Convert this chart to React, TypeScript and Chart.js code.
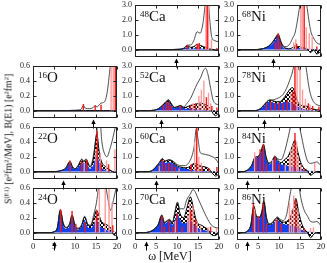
import React, { useEffect, useRef } from "react";
import { Chart, registerables } from "chart.js";
Chart.register(...registerables);

const SERIF = '"Liberation Serif", "Times New Roman", "DejaVu Serif", serif';

// ---- tick values ----
const X_TICKS = [0, 5, 10, 15, 20];
const Y_TICKS_O = [0, 0.2, 0.4, 0.6];
const Y_TICKS_CANI = [0, 1, 2, 3];

// ---- 16O ----
const O16_E = [0, 8, 10, 11, 11.5, 12, 12.5, 13.5, 14.3, 14.8, 15.3, 15.8, 16.2, 16.8, 17.3, 17.8, 18.2, 18.6, 19.2, 20];
const O16_TOT = [0, 0, 0.005, 0.01, 0.02, 0.07, 0.03, 0.025, 0.04, 0.065, 0.05, 0.08, 0.1, 0.11, 0.15, 0.3, 0.5, 0.7, 1.0, 1.2];
const O16_BLUE = [0, 0, 0, 0, 0, 0, 0, 0, 0, 0, 0, 0, 0, 0, 0, 0, 0, 0, 0, 0];
const O16_CHK = [0, 0, 0, 0, 0, 0, 0, 0, 0, 0, 0, 0, 0, 0, 0, 0, 0, 0, 0, 0];
const O16_RED_E = [12, 14.8, 16.2, 19.6];
const O16_RED_H = [0.09, 0.07, 0.08, 1.0];
const O16_PINK_E = [18.6, 19.1];
const O16_PINK_H = [1.0, 1.0];
const O16_THR = 14.2;

// ---- 22O ----
const O22_E = [0, 5, 6.5, 7.8, 8.8, 9.4, 10, 10.8, 11.6, 12.1, 12.6, 13.6, 14.4, 15.2, 15.8, 16.4, 17.2, 17.6, 18.3, 19, 20];
const O22_BLUE = [0, 0, 0.01, 0.04, 0.12, 0.05, 0.03, 0.06, 0.12, 0.1, 0.12, 0.04, 0.1, 0.25, 0.12, 0.05, 0.02, 0.01, 0.005, 0, 0];
const O22_CHK = [0, 0, 0.01, 0.045, 0.13, 0.06, 0.035, 0.08, 0.16, 0.13, 0.16, 0.06, 0.18, 0.5, 0.25, 0.12, 0.07, 0.05, 0.02, 0, -0.02];
const O22_TOT = [0, 0, 0.01, 0.05, 0.14, 0.07, 0.04, 0.09, 0.17, 0.14, 0.17, 0.07, 0.22, 0.55, 0.8, 0.4, 0.22, 0.2, 0.3, 0.45, 0.7];
const O22_RED_E = [8.8, 11.6, 12.8, 15.3, 16.2, 18];
const O22_RED_H = [0.15, 0.14, 0.16, 0.55, 0.12, 0.1];
const O22_PINK_E = [12.2, 15.0, 16.0, 17.5, 19.5];
const O22_PINK_H = [0.12, 0.3, 0.25, 0.15, 0.3];
const O22_THR = 7.2;

// ---- 24O ----
const O24_E = [0, 4, 5, 5.8, 6.5, 7.2, 7.9, 8.7, 9.3, 10, 10.8, 11.6, 12.3, 13, 13.7, 14.5, 15.1, 15.6, 16.3, 17, 17.7, 18.5, 19.2, 20];
const O24_BLUE = [0, 0, 0.01, 0.06, 0.28, 0.1, 0.05, 0.09, 0.2, 0.07, 0.04, 0.08, 0.17, 0.08, 0.06, 0.12, 0.2, 0.12, 0.07, 0.05, 0.03, 0.02, 0.01, 0];
const O24_CHK = [0, 0, 0.01, 0.065, 0.3, 0.12, 0.06, 0.11, 0.23, 0.09, 0.05, 0.1, 0.21, 0.11, 0.09, 0.2, 0.3, 0.25, 0.15, 0.12, 0.1, 0.06, -0.03, -0.04];
const O24_TOT = [0, 0, 0.01, 0.07, 0.31, 0.13, 0.07, 0.12, 0.24, 0.1, 0.06, 0.11, 0.22, 0.12, 0.1, 0.25, 0.4, 0.6, 0.8, 0.75, 0.5, 0.3, 0.45, 0.65];
const O24_RED_E = [6.6, 9.3, 10.2, 12.4, 15.2, 19.0];
const O24_RED_H = [0.31, 0.29, 0.12, 0.14, 0.3, 0.1];
const O24_PINK_E = [14.9, 15.8, 17.2, 18.1, 18.8];
const O24_PINK_H = [0.2, 0.6, 0.7, 0.7, 0.4];
const O24_THR = 5.1;

// ---- 48Ca ----
const CA48_E = [0, 8, 10, 11.5, 12.5, 13.2, 14, 14.8, 15.5, 16.2, 16.8, 17.3, 17.8, 18.3, 19, 20];
const CA48_BLUE = [0, 0, 0.01, 0.05, 0.18, 0.06, 0.08, 0.15, 0.1, 0.05, 0.04, 0.02, 0.01, 0, 0, 0];
const CA48_CHK = [0, 0, 0.01, 0.06, 0.25, 0.15, 0.2, 0.35, 0.3, 0.2, 0.15, 0.08, 0.04, 0.02, -0.02, -0.03];
const CA48_TOT = [0, 0, 0.02, 0.08, 0.3, 0.3, 0.6, 1.2, 1.1, 1.8, 3.2, 3.6, 2.0, 0.8, 0.6, 0.5];
const CA48_RED_E = [12.5, 14.8, 15.3, 17.2, 19.5];
const CA48_RED_H = [0.3, 0.4, 0.45, 3.5, 0.1];
const CA48_PINK_E = [15.0, 16.9, 17.5, 18.2];
const CA48_PINK_H = [0.35, 3.5, 3.5, 0.7];
const CA48_THR = 9.8;

// ---- 52Ca ----
const CA52_E = [0, 3, 4.5, 5.5, 6.5, 7.3, 8, 8.7, 9.4, 10.1, 10.8, 11.6, 12.4, 13.2, 14, 14.8, 15.6, 16.3, 16.8, 17.4, 18, 18.6, 19.2, 20];
const CA52_BLUE = [0, 0, 0.02, 0.1, 0.3, 0.5, 0.6, 0.35, 0.15, 0.2, 0.28, 0.15, 0.12, 0.15, 0.12, 0.08, 0.05, 0.04, 0.03, 0.02, 0.01, 0, 0, 0];
const CA52_CHK = [0, 0, 0.02, 0.11, 0.33, 0.55, 0.7, 0.42, 0.2, 0.25, 0.33, 0.2, 0.25, 0.35, 0.4, 0.45, 0.5, 0.45, 0.4, 0.3, 0.1, -0.2, -0.35, -0.1];
const CA52_TOT = [0, 0, 0.03, 0.12, 0.35, 0.6, 0.72, 0.45, 0.22, 0.27, 0.35, 0.25, 0.5, 0.8, 1.3, 1.8, 2.2, 2.7, 2.85, 2.4, 1.5, 0.7, 0.45, 0.4];
const CA52_RED_E = [6.8, 7.5, 8.0, 8.6, 10.8, 13.2, 14.4, 17.0, 18.3, 19.5];
const CA52_RED_H = [0.35, 0.6, 0.55, 0.3, 0.3, 0.35, 0.5, 0.9, 0.3, 0.2];
const CA52_PINK_E = [13.8, 15.2, 15.8, 16.4, 17.5, 18.0];
const CA52_PINK_H = [0.5, 1.0, 1.4, 2.0, 1.2, 0.5];
const CA52_THR = 6.2;

// ---- 60Ca ----
const CA60_E = [0, 3, 4, 5, 5.8, 6.5, 7.2, 8, 8.8, 9.5, 10.2, 11, 12, 12.8, 13.5, 14.1, 14.6, 15, 15.5, 16, 16.8, 17.6, 18.4, 19.2, 20];
const CA60_BLUE = [0, 0, 0.05, 0.3, 0.55, 0.75, 0.6, 0.65, 0.6, 0.45, 0.3, 0.25, 0.2, 0.15, 0.12, 0.1, 0.08, 0.06, 0.05, 0.04, 0.03, 0.02, 0.01, 0, 0];
const CA60_CHK = [0, 0, 0.05, 0.32, 0.6, 0.85, 0.7, 0.78, 0.72, 0.55, 0.35, 0.3, 0.25, 0.3, 0.45, 0.55, 0.5, 0.45, 0.4, 0.35, 0.3, 0.2, -0.1, -0.3, -0.15];
const CA60_TOT = [0, 0, 0.06, 0.33, 0.62, 0.88, 0.72, 0.8, 0.75, 0.6, 0.45, 0.4, 0.4, 0.6, 1.0, 1.7, 2.9, 2.2, 1.3, 1.2, 1.15, 1.1, 1.0, 0.85, 0.5];
const CA60_RED_E = [6.5, 7.3, 8.0, 8.8, 9.6, 13.4, 14.7, 16.0, 17.6, 19.5];
const CA60_RED_H = [0.8, 0.5, 0.6, 0.5, 0.3, 0.5, 3.5, 0.3, 0.2, 0.3];
const CA60_PINK_E = [5.8, 10.5, 14.2, 15.2, 15.8];
const CA60_PINK_H = [0.4, 0.2, 2.0, 1.0, 0.6];
const CA60_THR = 5.0;

// ---- 70Ca ----
const CA70_E = [0, 2, 3.5, 4.5, 5.5, 6.4, 7, 7.6, 8.2, 8.9, 9.5, 10.1, 10.7, 11.6, 12.3, 13.2, 13.8, 14.4, 15, 15.8, 16.6, 17.4, 18.2, 19, 20];
const CA70_BLUE = [0, 0, 0.05, 0.2, 0.5, 1.1, 0.6, 0.7, 0.8, 0.55, 0.8, 1.3, 0.9, 0.6, 0.7, 0.85, 0.6, 0.4, 0.3, 0.2, 0.15, 0.1, 0.05, 0.02, 0];
const CA70_CHK = [0, 0, 0.05, 0.21, 0.52, 1.15, 0.65, 0.75, 0.85, 0.65, 1.3, 2.0, 1.3, 1.0, 1.6, 2.4, 1.8, 1.0, 0.6, 0.5, 0.35, 0.2, -0.15, -0.2, -0.05];
const CA70_TOT = [0, 0, 0.06, 0.22, 0.55, 1.2, 0.7, 0.8, 0.9, 0.7, 1.4, 2.05, 1.6, 1.6, 2.2, 2.6, 2.9, 2.7, 2.3, 1.8, 1.3, 0.85, 0.5, 0.35, 0.3];
const CA70_RED_E = [6.4, 7.0, 8.2, 9.0, 10.0, 11.2, 13.3, 14.4, 18.0];
const CA70_RED_H = [1.1, 0.4, 0.8, 0.4, 1.3, 0.4, 1.5, 0.9, 0.4];
const CA70_PINK_E = [9.6, 12.6, 13.0, 13.8, 14.8, 15.6, 17.4, 19.4];
const CA70_PINK_H = [0.8, 1.2, 2.0, 1.8, 0.8, 0.5, 0.35, 0.3];
const CA70_THR = 2.5;

// ---- 68Ni ----
const NI68_E = [0, 4, 6, 7.5, 8.5, 9.2, 9.8, 10.4, 11, 11.8, 12.6, 13.3, 13.8, 14.3, 14.8, 15.3, 16, 16.6, 17.1, 17.6, 18.2, 19, 20];
const NI68_BLUE = [0, 0, 0.05, 0.2, 0.45, 0.7, 0.9, 0.5, 0.15, 0.05, 0.03, 0.05, 0.08, 0.1, 0.1, 0.08, 0.06, 0.05, 0.03, 0.02, 0.01, 0, 0];
const NI68_CHK = [0, 0, 0.05, 0.22, 0.5, 0.8, 1.0, 0.55, 0.2, 0.08, 0.05, 0.15, 0.25, 0.2, 0.2, 0.15, 0.1, 0.05, -0.1, -0.2, 0, -0.3, -0.1];
const NI68_TOT = [0, 0, 0.05, 0.23, 0.52, 0.82, 1.05, 0.6, 0.25, 0.2, 0.4, 0.8, 1.1, 1.8, 2.7, 3.6, 3.8, 3.0, 2.0, 1.2, 0.8, 0.45, 0.35];
const NI68_RED_E = [9.2, 9.8, 10.3, 14.2, 16.0, 19.0];
const NI68_RED_H = [0.5, 1.1, 0.5, 0.4, 3.5, 0.2];
const NI68_PINK_E = [13.5, 14.0, 15.2, 15.6, 16.5, 17.2, 17.9];
const NI68_PINK_H = [0.5, 0.7, 3.5, 3.5, 1.5, 1.1, 0.9];
const NI68_THR = 8.6;

// ---- 78Ni ----
const NI78_E = [0, 4, 5, 6, 7, 7.8, 8.6, 9.4, 10.2, 11, 11.8, 12.5, 13.2, 13.8, 14.3, 14.8, 15.3, 15.9, 16.5, 17, 17.5, 18.2, 19, 20];
const NI78_BLUE = [0, 0, 0.03, 0.2, 0.5, 0.6, 0.55, 0.5, 0.5, 0.55, 0.6, 0.55, 0.5, 0.4, 0.3, 0.22, 0.15, 0.1, 0.06, 0.04, 0.02, 0.01, 0, 0];
const NI78_CHK = [0, 0, 0.03, 0.22, 0.55, 0.7, 0.65, 0.6, 0.6, 0.8, 1.1, 1.4, 1.55, 1.2, 0.7, 0.45, 0.35, 0.3, 0.3, 0.25, 0.15, 0.1, 0.05, 0.02];
const NI78_TOT = [0, 0, 0.04, 0.25, 0.58, 0.72, 0.72, 0.8, 0.9, 1.1, 1.5, 2.0, 2.6, 3.3, 3.6, 2.7, 3.2, 3.6, 2.8, 1.8, 1.1, 0.6, 0.4, 0.3];
const NI78_RED_E = [7.0, 8.0, 9.0, 10.0, 11.0, 12.0, 13.3, 13.8, 17.0, 18.0, 19.5];
const NI78_RED_H = [0.5, 0.6, 0.5, 0.55, 0.5, 0.7, 1.3, 3.5, 0.5, 0.3, 0.25];
const NI78_PINK_E = [12.8, 14.3, 15.0, 15.6, 16.3, 17.4];
const NI78_PINK_H = [1.2, 3.5, 3.5, 1.4, 0.8, 0.4];
const NI78_THR = 6.4;

// ---- 84Ni ----
const NI84_E = [0, 1.5, 2.5, 3.5, 4.3, 5, 5.7, 6.3, 6.9, 7.5, 8.3, 9, 9.7, 10.5, 11.3, 12.1, 12.9, 13.8, 14.5, 15.2, 16, 16.8, 17.5, 18.3, 19, 20];
const NI84_BLUE = [0, 0, 0.1, 0.4, 0.9, 0.95, 1.2, 1.7, 0.9, 0.5, 0.6, 0.95, 0.7, 0.5, 0.45, 0.4, 0.35, 0.3, 0.2, 0.15, 0.08, 0.04, 0.02, 0.01, 0, 0];
const NI84_CHK = [0, 0, 0.1, 0.42, 0.95, 1.0, 1.3, 1.8, 1.0, 0.55, 0.65, 1.0, 0.75, 0.6, 0.8, 1.0, 1.5, 2.1, 1.3, 0.6, 0.2, 0.05, -0.25, -0.1, 0, 0];
const NI84_TOT = [0, 0, 0.1, 0.43, 0.97, 1.02, 1.35, 1.85, 1.05, 0.6, 0.7, 1.05, 0.85, 0.8, 1.3, 2.2, 3.2, 3.8, 3.5, 2.6, 1.5, 0.7, 0.55, 0.6, 0.65, 0.4];
const NI84_RED_E = [4.6, 5.5, 6.3, 7.0, 9.1, 10.0, 13.8, 16.0];
const NI84_RED_H = [0.9, 1.5, 1.8, 0.5, 1.0, 0.5, 2.6, 0.2];
const NI84_PINK_E = [4.2, 8.5, 11.5, 12.5, 12.8, 13.3, 14.2, 14.6, 15.2, 18.5];
const NI84_PINK_H = [1.3, 0.8, 0.5, 1.0, 1.5, 1.8, 2.0, 1.0, 0.5, 0.6];
const NI84_THR = 2.4;

// ---- 86Ni ----
const NI86_E = [0, 1.5, 2.5, 3.3, 4.0, 4.6, 5.3, 5.9, 6.4, 7.0, 7.6, 8.3, 9.0, 9.6, 10.3, 11.0, 11.8, 12.6, 13.3, 14.0, 14.6, 15.3, 16, 16.8, 17.5, 18.3, 19, 20];
const NI86_BLUE = [0, 0, 0.1, 0.5, 1.7, 1.05, 0.95, 1.3, 2.0, 0.9, 0.5, 0.55, 0.75, 0.9, 0.7, 0.6, 0.55, 0.5, 0.45, 0.4, 0.3, 0.2, 0.1, 0.05, 0.02, 0.01, 0, 0];
const NI86_CHK = [0, 0, 0.1, 0.52, 1.75, 1.1, 1.0, 1.35, 2.05, 1.0, 0.55, 0.6, 0.85, 1.0, 0.8, 0.7, 0.75, 1.0, 1.5, 2.3, 1.5, 0.7, 0.25, 0, -0.35, -0.1, 0, 0];
const NI86_TOT = [0, 0, 0.11, 0.53, 1.8, 1.15, 1.05, 1.4, 2.1, 1.05, 0.6, 0.65, 0.9, 1.05, 0.9, 0.8, 1.2, 2.5, 3.5, 3.8, 3.3, 2.2, 1.5, 1.1, 0.75, 0.7, 0.75, 0.45];
const NI86_RED_E = [3.9, 5.1, 6.3, 7.0, 9.6, 10.5, 14.0, 16.0];
const NI86_RED_H = [2.0, 1.1, 2.1, 0.6, 0.9, 0.6, 2.2, 0.3];
const NI86_PINK_E = [4.2, 9.2, 12.5, 13.0, 13.5, 14.5, 15.0, 17.5, 18.2];
const NI86_PINK_H = [1.6, 0.8, 2.0, 1.5, 2.5, 1.5, 0.6, 0.3, 0.35];
const NI86_THR = 2.3;

// ---- layout (not data) ----
const COL_LEFT = [33, 135, 237];
const ROW_TOP = [5, 66, 127, 188];
const PLOT_W = 84;
const PLOT_H = 52;
const AX_W = 24;
const PAD_T = 6;
const PAD_R = 6;

const BLUE = "#1440ee";
const RED = "#f21818";
const PINK = "#ff9a9a";

type Panel = {
  el: string; mass: string; col: number; row: number;
  yMin: number; yMax: number; yTicks: number[];
  e: number[]; blue: number[]; chk: number[]; tot: number[];
  redE: number[]; redH: number[]; pinkE: number[]; pinkH: number[];
  thr: number;
};

const O = { yMin: -0.1, yMax: 0.6, yTicks: Y_TICKS_O };
const CN = { yMin: -0.5, yMax: 3.0, yTicks: Y_TICKS_CANI };

const PANELS: Panel[] = [
  { el: "O", mass: "16", col: 0, row: 1, ...O, e: O16_E, blue: O16_BLUE, chk: O16_CHK, tot: O16_TOT, redE: O16_RED_E, redH: O16_RED_H, pinkE: O16_PINK_E, pinkH: O16_PINK_H, thr: O16_THR },
  { el: "O", mass: "22", col: 0, row: 2, ...O, e: O22_E, blue: O22_BLUE, chk: O22_CHK, tot: O22_TOT, redE: O22_RED_E, redH: O22_RED_H, pinkE: O22_PINK_E, pinkH: O22_PINK_H, thr: O22_THR },
  { el: "O", mass: "24", col: 0, row: 3, ...O, e: O24_E, blue: O24_BLUE, chk: O24_CHK, tot: O24_TOT, redE: O24_RED_E, redH: O24_RED_H, pinkE: O24_PINK_E, pinkH: O24_PINK_H, thr: O24_THR },
  { el: "Ca", mass: "48", col: 1, row: 0, ...CN, e: CA48_E, blue: CA48_BLUE, chk: CA48_CHK, tot: CA48_TOT, redE: CA48_RED_E, redH: CA48_RED_H, pinkE: CA48_PINK_E, pinkH: CA48_PINK_H, thr: CA48_THR },
  { el: "Ca", mass: "52", col: 1, row: 1, ...CN, e: CA52_E, blue: CA52_BLUE, chk: CA52_CHK, tot: CA52_TOT, redE: CA52_RED_E, redH: CA52_RED_H, pinkE: CA52_PINK_E, pinkH: CA52_PINK_H, thr: CA52_THR },
  { el: "Ca", mass: "60", col: 1, row: 2, ...CN, e: CA60_E, blue: CA60_BLUE, chk: CA60_CHK, tot: CA60_TOT, redE: CA60_RED_E, redH: CA60_RED_H, pinkE: CA60_PINK_E, pinkH: CA60_PINK_H, thr: CA60_THR },
  { el: "Ca", mass: "70", col: 1, row: 3, ...CN, e: CA70_E, blue: CA70_BLUE, chk: CA70_CHK, tot: CA70_TOT, redE: CA70_RED_E, redH: CA70_RED_H, pinkE: CA70_PINK_E, pinkH: CA70_PINK_H, thr: CA70_THR },
  { el: "Ni", mass: "68", col: 2, row: 0, ...CN, e: NI68_E, blue: NI68_BLUE, chk: NI68_CHK, tot: NI68_TOT, redE: NI68_RED_E, redH: NI68_RED_H, pinkE: NI68_PINK_E, pinkH: NI68_PINK_H, thr: NI68_THR },
  { el: "Ni", mass: "78", col: 2, row: 1, ...CN, e: NI78_E, blue: NI78_BLUE, chk: NI78_CHK, tot: NI78_TOT, redE: NI78_RED_E, redH: NI78_RED_H, pinkE: NI78_PINK_E, pinkH: NI78_PINK_H, thr: NI78_THR },
  { el: "Ni", mass: "84", col: 2, row: 2, ...CN, e: NI84_E, blue: NI84_BLUE, chk: NI84_CHK, tot: NI84_TOT, redE: NI84_RED_E, redH: NI84_RED_H, pinkE: NI84_PINK_E, pinkH: NI84_PINK_H, thr: NI84_THR },
  { el: "Ni", mass: "86", col: 2, row: 3, ...CN, e: NI86_E, blue: NI86_BLUE, chk: NI86_CHK, tot: NI86_TOT, redE: NI86_RED_E, redH: NI86_RED_H, pinkE: NI86_PINK_E, pinkH: NI86_PINK_H, thr: NI86_THR },
];

function sticks(es: number[], hs: number[]) {
  const out: { x: number; y: number | null }[] = [];
  es.forEach((x, i) => {
    out.push({ x, y: 0 }, { x, y: hs[i] }, { x, y: null });
  });
  return out;
}
function pts(es: number[], ys: number[]) {
  return es.map((x, i) => ({ x, y: ys[i] }));
}

function PanelChart({ p }: { p: Panel }) {
  const ref = useRef<HTMLCanvasElement>(null);
  const L = COL_LEFT[p.col];
  const T = ROW_TOP[p.row];
  const bottom = p.row === 3;
  const BOT_H = bottom ? 15 : 12;
  const cw = AX_W + PLOT_W + PAD_R;
  const ch = PAD_T + PLOT_H + BOT_H;

  useEffect(() => {
    const canvas = ref.current!;
    const pc = document.createElement("canvas");
    pc.width = 4; pc.height = 4;
    const g = pc.getContext("2d")!;
    g.fillStyle = "#fff"; g.fillRect(0, 0, 4, 4);
    g.fillStyle = "#000"; g.fillRect(0, 0, 2, 2); g.fillRect(2, 2, 2, 2);
    const pattern = canvas.getContext("2d")!.createPattern(pc, "repeat");

    const deco = {
      id: "deco",
      beforeDraw(chart: any) {
        const { ctx, chartArea: a, scales } = chart;
        const y0 = Math.round(scales.y.getPixelForValue(0)) + 0.5;
        ctx.save();
        ctx.strokeStyle = "#777";
        ctx.lineWidth = 1;
        ctx.beginPath(); ctx.moveTo(a.left, y0); ctx.lineTo(a.right, y0); ctx.stroke();
        ctx.restore();
      },
      afterDraw(chart: any) {
        const { ctx, chartArea: a, scales } = chart;
        ctx.save();
        ctx.strokeStyle = "#222";
        ctx.lineWidth = 1;
        const l = Math.round(a.left) + 0.5, r = Math.round(a.right) - 0.5;
        const t = Math.round(a.top) + 0.5, b = Math.round(a.bottom) - 0.5;
        ctx.strokeRect(l, t, r - l, b - t);
        ctx.beginPath();
        X_TICKS.forEach((v) => {
          const x = Math.round(scales.x.getPixelForValue(v)) + 0.5;
          ctx.moveTo(x, b); ctx.lineTo(x, b - 3);
          ctx.moveTo(x, t); ctx.lineTo(x, t + 3);
        });
        p.yTicks.forEach((v) => {
          const y = Math.round(scales.y.getPixelForValue(v)) + 0.5;
          ctx.moveTo(l, y); ctx.lineTo(l + 3, y);
          ctx.moveTo(r, y); ctx.lineTo(r - 3, y);
        });
        ctx.stroke();
        // threshold arrow
        const ax = Math.round(scales.x.getPixelForValue(p.thr)) + 0.5;
        const top = a.bottom + 1.5;
        ctx.strokeStyle = "#000";
        ctx.fillStyle = "#000";
        ctx.beginPath(); ctx.moveTo(ax, top + 3); ctx.lineTo(ax, a.bottom + 10.5); ctx.stroke();
        ctx.beginPath(); ctx.moveTo(ax, top); ctx.lineTo(ax - 2.2, top + 4.5); ctx.lineTo(ax + 2.2, top + 4.5); ctx.closePath(); ctx.fill();
        ctx.restore();
      },
    };

    const chart = new Chart(canvas, {
      type: "line",
      data: {
        datasets: [
          { data: sticks(p.redE, p.redH), borderColor: RED, borderWidth: 1.4, pointRadius: 0, fill: false, spanGaps: false, tension: 0 } as any,
          { data: sticks(p.pinkE, p.pinkH), borderColor: PINK, borderWidth: 1.4, pointRadius: 0, fill: false, spanGaps: false, tension: 0 } as any,
          { data: pts(p.e, p.tot), borderColor: "#222", borderWidth: 0.8, pointRadius: 0, fill: false, cubicInterpolationMode: "monotone" } as any,
          { data: pts(p.e, p.chk), borderColor: "#000", borderWidth: 1, backgroundColor: pattern, fill: 4, pointRadius: 0, cubicInterpolationMode: "monotone" } as any,
          { data: pts(p.e, p.blue), borderColor: BLUE, borderWidth: 0.5, backgroundColor: BLUE, fill: "origin", pointRadius: 0, cubicInterpolationMode: "monotone" } as any,
        ],
      },
      options: {
        animation: false,
        responsive: false,
        devicePixelRatio: 1,
        events: [],
        layout: { autoPadding: false, padding: { top: PAD_T, right: PAD_R, left: 0, bottom: bottom ? 0 : BOT_H } },
        plugins: { legend: { display: false }, tooltip: { enabled: false } },
        scales: {
          x: {
            type: "linear", min: 0, max: 20,
            grid: { display: false, drawTicks: false },
            border: { display: false },
            ticks: { display: bottom, padding: 2, color: "#222", font: { family: SERIF, size: 8.5 }, maxRotation: 0, autoSkip: false },
            afterBuildTicks: (s: any) => { s.ticks = X_TICKS.map((v) => ({ value: v })); },
            afterFit: (s: any) => { s.height = bottom ? BOT_H : 0; s.paddingLeft = 0; s.paddingRight = 0; },
          },
          y: {
            type: "linear", min: p.yMin, max: p.yMax,
            grid: { display: false, drawTicks: false },
            border: { display: false },
            ticks: { padding: 3, color: "#222", font: { family: SERIF, size: 8 }, callback: (v: any) => Number(v).toFixed(1) },
            afterBuildTicks: (s: any) => { s.ticks = p.yTicks.map((v) => ({ value: v })); },
            afterFit: (s: any) => { s.width = AX_W; s.paddingTop = 0; s.paddingBottom = 0; },
          },
        },
      } as any,
      plugins: [deco as any],
    });
    return () => chart.destroy();
  }, []);

  return (
    <canvas
      ref={ref}
      width={cw}
      height={ch}
      style={{ position: "absolute", left: L - AX_W, top: T - PAD_T, width: cw, height: ch }}
    />
  );
}

function Label({ p }: { p: Panel }) {
  const L = COL_LEFT[p.col];
  const T = ROW_TOP[p.row];
  return (
    <div style={{ position: "absolute", left: L + 5, top: T + 4, fontFamily: SERIF, fontSize: 15, lineHeight: "15px", color: "#111", whiteSpace: "nowrap" }}>
      <span style={{ fontSize: 9, verticalAlign: 4, lineHeight: 0 }}>{p.mass}</span>
      {p.el}
    </div>
  );
}

const SUP = { fontSize: 6.5, verticalAlign: 3.5, lineHeight: 0 };

export default function App() {
  return (
    <div style={{ position: "fixed", left: 0, top: 0, width: 327, height: 263, background: "#fff", overflow: "hidden" }}>
      {PANELS.map((p) => <PanelChart key={p.mass + p.el} p={p} />)}
      {PANELS.map((p) => <Label key={"l" + p.mass + p.el} p={p} />)}
      <div style={{ position: "absolute", left: 8, top: 139, transform: "translate(-50%,-50%) rotate(-90deg)", fontFamily: SERIF, fontSize: 9.8, lineHeight: "11px", whiteSpace: "nowrap", color: "#111" }}>
        S<span style={SUP}>(E1)</span> [e<span style={SUP}>2</span>fm<span style={SUP}>2</span>/MeV], B(E1) [e<span style={SUP}>2</span>fm<span style={SUP}>2</span>]
      </div>
      <div style={{ position: "absolute", left: 170, top: 256, transform: "translate(-50%,-50%)", fontFamily: SERIF, fontSize: 12, lineHeight: "12px", whiteSpace: "nowrap", color: "#111" }}>
        ω [MeV]
      </div>
    </div>
  );
}
